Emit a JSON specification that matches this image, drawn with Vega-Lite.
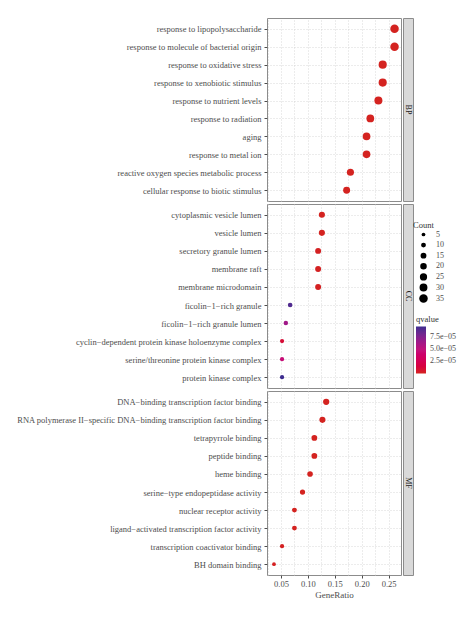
{
  "$schema": "https://vega.github.io/schema/vega-lite/v6.json",
  "padding": {"top": 17, "left": 15, "right": 5, "bottom": 5},
  "datasets": {
    "go": [
      {"ontology": "BP", "Description": "response to lipopolysaccharide", "GeneRatio": 0.261, "Count": 35, "qvalue": 1e-20},
      {"ontology": "BP", "Description": "response to molecule of bacterial origin", "GeneRatio": 0.261, "Count": 35, "qvalue": 1e-20},
      {"ontology": "BP", "Description": "response to oxidative stress", "GeneRatio": 0.239, "Count": 32, "qvalue": 1e-18},
      {"ontology": "BP", "Description": "response to xenobiotic stimulus", "GeneRatio": 0.239, "Count": 32, "qvalue": 1e-17},
      {"ontology": "BP", "Description": "response to nutrient levels", "GeneRatio": 0.231, "Count": 31, "qvalue": 1e-16},
      {"ontology": "BP", "Description": "response to radiation", "GeneRatio": 0.216, "Count": 29, "qvalue": 1e-14},
      {"ontology": "BP", "Description": "aging", "GeneRatio": 0.209, "Count": 28, "qvalue": 1e-13},
      {"ontology": "BP", "Description": "response to metal ion", "GeneRatio": 0.209, "Count": 28, "qvalue": 1e-13},
      {"ontology": "BP", "Description": "reactive oxygen species metabolic process", "GeneRatio": 0.179, "Count": 24, "qvalue": 1e-13},
      {"ontology": "BP", "Description": "cellular response to biotic stimulus", "GeneRatio": 0.172, "Count": 23, "qvalue": 1e-11},
      {"ontology": "CC", "Description": "cytoplasmic vesicle lumen", "GeneRatio": 0.126, "Count": 17, "qvalue": 2e-7},
      {"ontology": "CC", "Description": "vesicle lumen", "GeneRatio": 0.126, "Count": 17, "qvalue": 2e-7},
      {"ontology": "CC", "Description": "secretory granule lumen", "GeneRatio": 0.119, "Count": 16, "qvalue": 1e-6},
      {"ontology": "CC", "Description": "membrane raft", "GeneRatio": 0.119, "Count": 16, "qvalue": 1e-6},
      {"ontology": "CC", "Description": "membrane microdomain", "GeneRatio": 0.119, "Count": 16, "qvalue": 1e-6},
      {"ontology": "CC", "Description": "ficolin−1−rich granule", "GeneRatio": 0.067, "Count": 9, "qvalue": 9.2e-5},
      {"ontology": "CC", "Description": "ficolin−1−rich granule lumen", "GeneRatio": 0.059, "Count": 8, "qvalue": 6.4e-5},
      {"ontology": "CC", "Description": "cyclin−dependent protein kinase holoenzyme complex", "GeneRatio": 0.052, "Count": 7, "qvalue": 1.0e-5},
      {"ontology": "CC", "Description": "serine/threonine protein kinase complex", "GeneRatio": 0.052, "Count": 7, "qvalue": 4.6e-5},
      {"ontology": "CC", "Description": "protein kinase complex", "GeneRatio": 0.052, "Count": 7, "qvalue": 9.7e-5},
      {"ontology": "MF", "Description": "DNA−binding transcription factor binding", "GeneRatio": 0.134, "Count": 18, "qvalue": 1e-8},
      {"ontology": "MF", "Description": "RNA polymerase II−specific DNA−binding transcription factor binding", "GeneRatio": 0.127, "Count": 17, "qvalue": 1e-8},
      {"ontology": "MF", "Description": "tetrapyrrole binding", "GeneRatio": 0.112, "Count": 15, "qvalue": 1e-8},
      {"ontology": "MF", "Description": "peptide binding", "GeneRatio": 0.112, "Count": 15, "qvalue": 1e-7},
      {"ontology": "MF", "Description": "heme binding", "GeneRatio": 0.104, "Count": 14, "qvalue": 1e-7},
      {"ontology": "MF", "Description": "serine−type endopeptidase activity", "GeneRatio": 0.09, "Count": 12, "qvalue": 1e-7},
      {"ontology": "MF", "Description": "nuclear receptor activity", "GeneRatio": 0.075, "Count": 10, "qvalue": 1e-7},
      {"ontology": "MF", "Description": "ligand−activated transcription factor activity", "GeneRatio": 0.075, "Count": 10, "qvalue": 1e-7},
      {"ontology": "MF", "Description": "transcription coactivator binding", "GeneRatio": 0.052, "Count": 7, "qvalue": 1e-6},
      {"ontology": "MF", "Description": "BH domain binding", "GeneRatio": 0.037, "Count": 5, "qvalue": 1e-6}
    ]
  },
  "vconcat": [
    {
      "hconcat": [
        {
          "data": {"name": "go"},
          "transform": [{"filter": "datum.ontology == 'BP'"}],
          "width": 134, "height": 183,
          "mark": {"type": "circle", "opacity": 1},
          "encoding": {
            "y": {"field": "Description", "type": "nominal", "sort": null, "scale": {"padding": 0.6}, "axis": {"title": null, "grid": true}},
            "x": {"field": "GeneRatio", "type": "quantitative", "scale": {"domain": [0.024, 0.273], "nice": false, "zero": false},
                  "axis": {"values": [0.025, 0.05, 0.075, 0.1, 0.125, 0.15, 0.175, 0.2, 0.225, 0.25], "labels": false, "ticks": false, "title": null, "grid": true}},
            "size": {"field": "Count", "type": "quantitative", "scale": {"domain": [5, 35], "range": [14, 72], "zero": false},
                     "legend": {"values": [5, 10, 15, 20, 25, 30, 35], "title": "Count", "orient": "none", "legendX": 146, "legendY": 203, "titlePadding": 1, "symbolFillColor": "black", "symbolStrokeWidth": 0, "symbolOpacity": 1, "symbolOffset": 6, "labelOffset": 8, "rowPadding": 2.6}},
            "color": {"field": "qvalue", "type": "quantitative", "scale": {"domain": [0, 4.85e-5, 9.7e-5], "range": ["#d42320", "#c4137a", "#3d2c8e"]},
                      "legend": {"values": [2.5e-5, 5e-5, 7.5e-5], "title": "qvalue", "orient": "none", "legendX": 149, "legendY": 297, "titlePadding": 3, "gradientLength": 47, "gradientThickness": 10, "labelOffset": 4, "labelExpr": "replace(format(datum.value, '.1e'), 'e-', 'e−0')"}}
          }
        },
        {
          "data": {"values": [{"lab": "BP"}]},
          "width": 10, "height": 183,
          "view": {"fill": "#d9d9d9", "stroke": "#8c8c8c"},
          "mark": {"type": "text", "angle": 90, "fontSize": 8, "color": "#1a1a1a", "font": "Liberation Serif"},
          "encoding": {"text": {"field": "lab"}}
        }
      ],
      "spacing": 0
    },
    {
      "hconcat": [
        {
          "data": {"name": "go"},
          "transform": [{"filter": "datum.ontology == 'CC'"}],
          "width": 134, "height": 184,
          "mark": {"type": "circle", "opacity": 1},
          "encoding": {
            "y": {"field": "Description", "type": "nominal", "sort": null, "scale": {"padding": 0.6}, "axis": {"title": null, "grid": true}},
            "x": {"field": "GeneRatio", "type": "quantitative", "scale": {"domain": [0.024, 0.273], "nice": false, "zero": false},
                  "axis": {"values": [0.025, 0.05, 0.075, 0.1, 0.125, 0.15, 0.175, 0.2, 0.225, 0.25], "labels": false, "ticks": false, "title": null, "grid": true}},
            "size": {"field": "Count", "type": "quantitative"},
            "color": {"field": "qvalue", "type": "quantitative"}
          }
        },
        {
          "data": {"values": [{"lab": "CC"}]},
          "width": 10, "height": 184,
          "view": {"fill": "#d9d9d9", "stroke": "#8c8c8c"},
          "mark": {"type": "text", "angle": 90, "fontSize": 8, "color": "#1a1a1a", "font": "Liberation Serif"},
          "encoding": {"text": {"field": "lab"}}
        }
      ],
      "spacing": 0
    },
    {
      "hconcat": [
        {
          "data": {"name": "go"},
          "transform": [{"filter": "datum.ontology == 'MF'"}],
          "width": 134, "height": 184,
          "mark": {"type": "circle", "opacity": 1},
          "encoding": {
            "y": {"field": "Description", "type": "nominal", "sort": null, "scale": {"padding": 0.6}, "axis": {"title": null, "grid": true}},
            "x": {"field": "GeneRatio", "type": "quantitative", "scale": {"domain": [0.024, 0.273], "nice": false, "zero": false},
                  "axis": {"values": [0.025, 0.05, 0.075, 0.1, 0.125, 0.15, 0.175, 0.2, 0.225, 0.25], "title": "GeneRatio", "grid": true, "labelOverlap": false, "labelFlush": false, "labelPadding": 1, "titlePadding": 3,
                           "labelExpr": "abs(datum.value*20 - round(datum.value*20)) < 0.001 ? format(datum.value, '.2f') : ''",
                           "tickOpacity": {"condition": {"test": "abs(datum.value*20 - round(datum.value*20)) < 0.001", "value": 1}, "value": 0}}},
            "size": {"field": "Count", "type": "quantitative"},
            "color": {"field": "qvalue", "type": "quantitative"}
          }
        },
        {
          "data": {"values": [{"lab": "MF"}]},
          "width": 10, "height": 184,
          "view": {"fill": "#d9d9d9", "stroke": "#8c8c8c"},
          "mark": {"type": "text", "angle": 90, "fontSize": 8, "color": "#1a1a1a", "font": "Liberation Serif"},
          "encoding": {"text": {"field": "lab"}}
        }
      ],
      "spacing": 0
    }
  ],
  "spacing": 1,
  "resolve": {"scale": {"y": "independent", "color": "shared", "size": "shared"}},
  "config": {
    "font": "Liberation Serif",
    "view": {"stroke": "#8c8c8c", "strokeWidth": 1},
    "axis": {"labelFont": "Liberation Serif", "labelFontSize": 8.5, "labelColor": "#4d4d4d", "tickColor": "#4d4d4d", "tickSize": 3, "labelPadding": 3, "labelLimit": 400, "domain": false,
             "gridColor": "#cfcfcf", "gridDash": [1, 2], "gridWidth": 0.8,
             "titleFont": "Liberation Serif", "titleFontWeight": "normal", "titleColor": "#4d4d4d", "titleFontSize": 9, "titlePadding": 6},
    "legend": {"titleFont": "Liberation Serif", "titleFontWeight": "normal", "titleFontSize": 8.5, "titleColor": "#333333", "labelFont": "Liberation Serif", "labelFontSize": 8, "labelColor": "#4d4d4d"}
  }
}
